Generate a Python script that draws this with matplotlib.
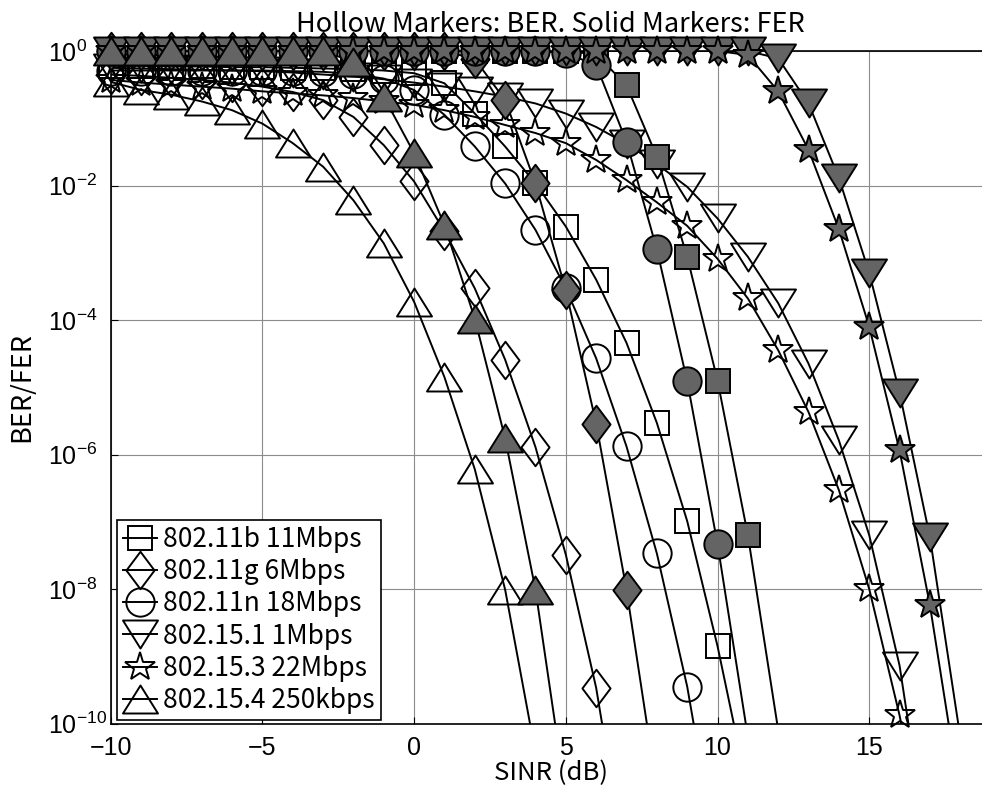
import numpy as np
import matplotlib
matplotlib.use("Agg")
import matplotlib.pyplot as plt
from matplotlib.lines import Line2D
from matplotlib.path import Path
from matplotlib.ticker import FixedLocator, FuncFormatter, NullLocator

plt.rcParams['mathtext.fontset'] = 'custom'
plt.rcParams['mathtext.rm'] = 'Liberation Sans'
plt.rcParams['mathtext.it'] = 'Liberation Sans'
plt.rcParams['mathtext.bf'] = 'Liberation Sans'

# ---------------- data (values given as log10 of BER / FER) -------------
standards = ["802.11b 11Mbps", "802.11g 6Mbps", "802.11n 18Mbps",
             "802.15.1 1Mbps", "802.15.3 22Mbps", "802.15.4 250kbps"]
x_start = -10

ber_11b_log = [-0.22, -0.22, -0.23, -0.23, -0.24, -0.24, -0.25, -0.26, -0.27, -0.29,
               -0.33, -0.48, -0.93, -1.42, -1.97, -2.61, -3.40, -4.34, -5.53, -6.99,
               -8.85, -11.0]
fer_11b_log = [0, 0, 0, 0, 0, 0, 0, 0, 0, 0, 0, 0, 0, 0, 0, 0,
               -0.05, -0.51, -1.57, -3.06, -4.90, -7.20, -10.1]

ber_11g_log = [-0.35, -0.37, -0.40, -0.43, -0.47, -0.53, -0.61, -0.73, -0.98, -1.40,
               -1.94, -2.68, -3.53, -4.59, -5.89, -7.49, -9.47, -12.2]
fer_11g_log = [0, 0, 0, 0, 0, 0, 0, 0, 0, 0, 0, 0,
               -0.12, -0.73, -1.97, -3.56, -5.54, -8.01, -10.98]

ber_11n_log = [-0.29, -0.29, -0.29, -0.29, -0.29, -0.29, -0.30, -0.31, -0.34, -0.41,
               -0.58, -0.95, -1.42, -1.97, -2.66, -3.53, -4.57, -5.88, -7.47, -9.45,
               -12.05]
fer_11n_log = [0, 0, 0, 0, 0, 0, 0, 0, 0, 0, 0, 0, 0, 0, 0,
               -0.03, -0.21, -1.35, -2.95, -4.91, -7.33, -10.2]

ber_151_log = [-0.25, -0.26, -0.27, -0.28, -0.29, -0.30, -0.32, -0.35, -0.38, -0.42,
               -0.47, -0.53, -0.60, -0.68, -0.78, -0.93, -1.13, -1.38, -1.68, -2.02,
               -2.49, -3.06, -3.75, -4.65, -5.79, -7.20, -9.14, -12.1]
fer_151_log = [0] * 22 + [-0.11, -0.78, -1.89, -3.30, -5.08, -7.23, -10.2]

ber_153_log = [-0.43, -0.47, -0.50, -0.53, -0.56, -0.60, -0.63, -0.66, -0.70, -0.75,
               -0.80, -0.88, -0.98, -1.10, -1.22, -1.37, -1.62, -1.92, -2.25, -2.60,
               -3.09, -3.68, -4.45, -5.37, -6.53, -8.00, -9.88, -12.2]
fer_153_log = [0] * 21 + [-0.06, -0.60, -1.47, -2.65, -4.10, -5.94, -8.24, -11.1]

ber_154_log = [-0.46, -0.58, -0.65, -0.75, -0.88, -1.08, -1.37, -1.72, -2.22, -2.86,
               -3.73, -4.85, -6.22, -8.01, -10.44]
fer_154_log = [0, 0, 0, 0, 0, 0, 0, 0,
               -0.16, -0.68, -1.52, -2.59, -3.98, -5.76, -8.01, -11.09]

ber_series = [ber_11b_log, ber_11g_log, ber_11n_log, ber_151_log, ber_153_log, ber_154_log]
fer_series = [fer_11b_log, fer_11g_log, fer_11n_log, fer_151_log, fer_153_log, fer_154_log]

x_ticks = [-10, -5, 0, 5, 10, 15]
y_tick_exps = [-10, -8, -6, -4, -2, 0]

# ---------------- markers ----------------
diamond = Path([(0, 1), (0.75, 0), (0, -1), (-0.75, 0), (0, 1)],
               [Path.MOVETO, Path.LINETO, Path.LINETO, Path.LINETO, Path.CLOSEPOLY])
tri_up = Path([(0, 0.8), (1, -0.8), (-1, -0.8), (0, 0.8)],
              [Path.MOVETO, Path.LINETO, Path.LINETO, Path.CLOSEPOLY])
tri_down = Path([(0, -0.8), (1, 0.8), (-1, 0.8), (0, -0.8)],
                [Path.MOVETO, Path.LINETO, Path.LINETO, Path.CLOSEPOLY])
markers = ['s', diamond, 'o', tri_down, '*', tri_up]
msizes = [16.8, 27.0, 20.4, 25.2, 22.0, 25.2]

W, H = 982, 789
fig = plt.figure(figsize=(W / 100, H / 100), dpi=100)
ax_left, ax_right, ax_top, ax_bot = 110.7, 990.6, 51.0, 723.5
ax = fig.add_axes([ax_left / W, 1 - ax_bot / H, (ax_right - ax_left) / W, (ax_bot - ax_top) / H])
ax.set_yscale('log')
ax.set_xlim(-10, 19)
ax.set_ylim(1e-10, 1)

ymin = 1e-10
solid = '#646464'
lw = 1.4
mew = 1.4

def draw(vals_log, k, filled, z):
    v = 10.0 ** np.asarray(vals_log, dtype=float)
    x = np.arange(x_start, x_start + len(v))
    ax.plot(x, v, color='black', lw=lw, zorder=z, clip_on=True)
    m = v >= ymin * 0.999
    ax.plot(x[m], v[m], ls='none', marker=markers[k], ms=msizes[k],
            mfc=(solid if filled else 'none'), mec='black', mew=mew,
            zorder=z + 0.5, clip_on=False)

for k in range(6):
    draw(ber_series[k], k, False, 3 + k * 0.01)
for k in range(6):
    draw(fer_series[k], k, True, 4 + k * 0.01)

# ---------------- axes styling ----------------
ax.xaxis.set_major_locator(FixedLocator(x_ticks))
ax.yaxis.set_major_locator(FixedLocator([10.0 ** e for e in y_tick_exps]))
ax.yaxis.set_minor_locator(NullLocator())
ax.yaxis.set_major_formatter(FuncFormatter(lambda v, p: r'$\mathdefault{10^{%d}}$' % int(round(np.log10(v)))))
ax.set_xticklabels(['\u2212' + str(-t) if t < 0 else str(t) for t in x_ticks])
ax.grid(True, color='#8c8c8c', lw=0.8, zorder=0)
ax.set_axisbelow(True)
ax.tick_params(direction='in', length=5, width=0.8, labelsize=18)
for lab in ax.get_xticklabels() + ax.get_yticklabels():
    lab.set_fontfamily('Liberation Sans')
ax.tick_params(axis='x', pad=9)
ax.tick_params(axis='y', pad=45)
for lab in ax.get_yticklabels():
    lab.set_horizontalalignment('left')
for s in ['left', 'bottom', 'top']:
    ax.spines[s].set_linewidth(1.2)
ax.spines['right'].set_visible(False)

jp = ['Noto Sans CJK JP', 'DejaVu Sans']
fig.text(550.6 / W, 1 - 31.7 / H, 'Hollow Markers: BER. Solid Markers: FER',
         ha='center', va='baseline', fontsize=19.5, family=jp)
fig.text(550.6 / W, 1 - 773 / H, 'SINR (dB)', ha='center', va='center', fontsize=18.5, family=jp)
fig.text(22 / W, 1 - 387 / H, 'BER/FER', ha='center', va='center', rotation=90, fontsize=19.5, family=jp)

handles = [Line2D([0], [0], color='black', lw=lw, marker=markers[k], ms=msizes[k],
                  mfc='none', mec='black', mew=mew) for k in range(6)]
leg = ax.legend(handles, standards, loc='lower left',
                bbox_to_anchor=((116.7 - ax_left) / (ax_right - ax_left), (ax_bot - 720) / (ax_bot - ax_top)),
                borderaxespad=0, fancybox=False, framealpha=1, edgecolor='black',
                prop={'family': jp, 'size': 19}, handlelength=1.3, handletextpad=0.25,
                labelspacing=0.2, borderpad=0.22)
leg.get_frame().set_linewidth(1.2)
leg.set_zorder(10)

fig.savefig('out.png', dpi=100)
